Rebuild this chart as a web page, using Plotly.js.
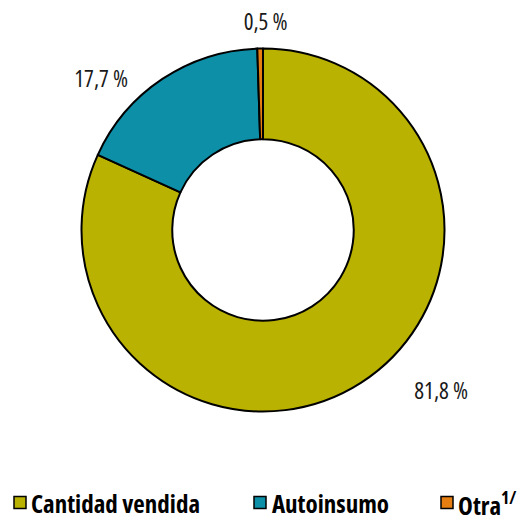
<!DOCTYPE html>
<html>
<head>
<meta charset="utf-8">
<script src="https://cdn.plot.ly/plotly-3.0.1.min.js"></script>
<style>
html,body{margin:0;padding:0;background:#fff;}
#chart{width:522px;height:516px;}
#chart svg text{font-stretch:75% !important;}
</style>
</head>
<body>
<div id="chart"></div>
<script>
const categories = ["Cantidad vendida", "Autoinsumo", "Otra<sup>1/</sup>"];
const shares = [81.8, 17.7, 0.5];
const sliceColors = ["#BAB200", "#0E8FA8", "#E67E12"];

const W = 522, H = 516;
const FONT = '"Open Sans", Roboto, sans-serif';

function fmt(v) { return v.toFixed(1).replace('.', ',') + ' %'; }

// layout-only positions
const labelPos = [[441, 390], [101, 78], [265, 21]];
const legendSq = [14, 254, 441];
const legendTextCenter = [115.5, 330, 487];
const legendY = 502.5;
const sq = 12;

const trace = {
  type: 'pie',
  values: shares,
  labels: categories,
  sort: false,
  direction: 'clockwise',
  rotation: 0,
  hole: 0.5,
  textinfo: 'none',
  hoverinfo: 'label+percent',
  showlegend: false,
  marker: { colors: sliceColors, line: { color: '#000000', width: 2 } },
  domain: {
    x: [(263 - 181.5) / W, (263 + 181.5) / W],
    y: [1 - (230 + 181.5) / H, 1 - (230 - 181.5) / H]
  }
};

const annotations = shares.map((v, i) => ({
  xref: 'paper', yref: 'paper',
  x: labelPos[i][0] / W, y: 1 - labelPos[i][1] / H,
  xanchor: 'center', yanchor: 'middle',
  text: fmt(v), showarrow: false,
  font: { family: FONT, size: 23, color: '#1a1a1a' }
}));

categories.forEach((c, i) => {
  annotations.push({
    xref: 'paper', yref: 'paper',
    x: legendTextCenter[i] / W, y: 1 - (legendY + 0.5) / H,
    xanchor: 'center', yanchor: 'middle',
    text: c, showarrow: false,
    font: { family: FONT, size: 25, color: '#000000', weight: 'bold' }
  });
});

const shapes = sliceColors.map((col, i) => ({
  type: 'rect', xref: 'paper', yref: 'paper',
  x0: legendSq[i] / W, x1: (legendSq[i] + sq) / W,
  y0: 1 - (legendY + sq / 2) / H, y1: 1 - (legendY - sq / 2) / H,
  fillcolor: col, line: { color: '#000000', width: 1.5 }
}));

const layout = {
  width: W, height: H,
  margin: { l: 0, r: 0, t: 0, b: 0 },
  paper_bgcolor: '#ffffff',
  showlegend: false,
  annotations: annotations,
  shapes: shapes
};

Plotly.newPlot('chart', [trace], layout, { displayModeBar: false, staticPlot: true });
</script>
</body>
</html>
